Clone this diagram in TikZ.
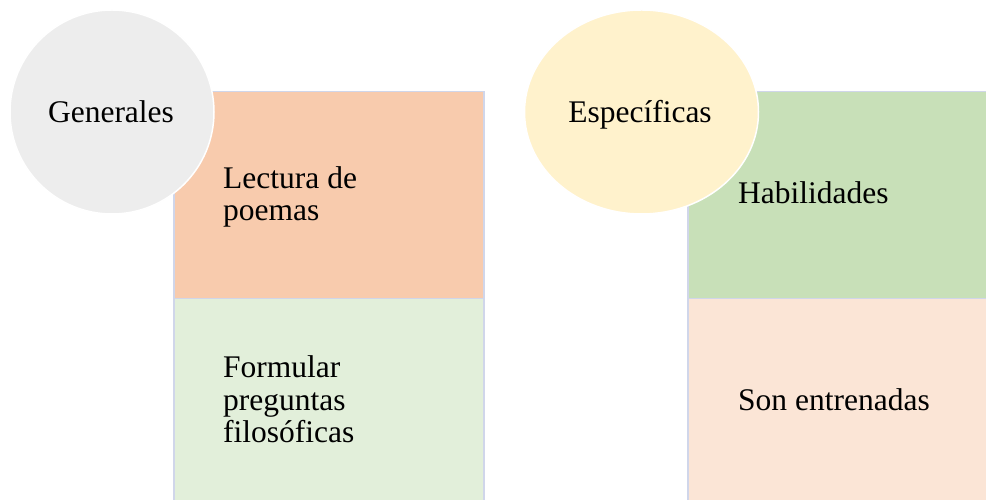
\documentclass[tikz,border=0pt]{standalone}
\usepackage{fontspec}
\setmainfont{Liberation Serif}
\usetikzlibrary{shapes.geometric}
\definecolor{circgray}{HTML}{EDEDED}
\definecolor{boxorange}{HTML}{F8CBAD}
\definecolor{boxlgreen}{HTML}{E2EFDA}
\definecolor{ellyellow}{HTML}{FFF2CC}
\definecolor{boxgreen}{HTML}{C8E0B8}
\definecolor{boxlorange}{HTML}{FBE5D6}
\definecolor{boxline}{HTML}{D0D6EA}
\tikzset{
  panel/.style={draw=boxline, line width=1.5pt, rectangle, inner sep=0pt, anchor=north west},
  blob/.style={draw=white, line width=1.5pt, inner sep=0pt},
  lbl/.style={inner sep=0pt, font=\fontsize{31.5}{32.5}\selectfont, align=left, text=black}
}
\begin{document}
\begin{tikzpicture}[x=1pt,y=1pt]
\useasboundingbox (0,0) rectangle (986,500);
\begin{scope}
\clip (0,0) rectangle (986,500);
\fill[white] (0,0) rectangle (986,500);
% left column
\node[panel, fill=boxorange, minimum width=310, minimum height=207] (lr1) at (173,409) {};
\node[panel, fill=boxlgreen, minimum width=310, minimum height=240] (lr2) at (173,202) {};
% right column
\node[panel, fill=boxgreen, minimum width=320, minimum height=207] (rr1) at (687,409) {};
\node[panel, fill=boxlorange, minimum width=320, minimum height=240] (rr2) at (687,202) {};
% circles
\node[blob, circle, fill=circgray, minimum size=204] (gen) at (112,388) {};
\node[blob, ellipse, fill=ellyellow, minimum width=234, minimum height=204] (esp) at (641.5,388) {};
\end{scope}
% labels
\node[lbl, anchor=base] (tgen) at (111,377) {Generales};
\node[lbl, anchor=base] (tesp) at (640,377) {Específicas};
\node[lbl, anchor=base west] (tlr1) at (223,279) {Lectura de\\poemas};
\node[lbl, anchor=base west] (tlr2) at (223,57) {Formular\\preguntas\\filosóficas};
\node[lbl, anchor=base west] (trr1) at (738,296) {Habilidades};
\node[lbl, anchor=base west] (trr2) at (738,89) {Son entrenadas};
\end{tikzpicture}
\end{document}
